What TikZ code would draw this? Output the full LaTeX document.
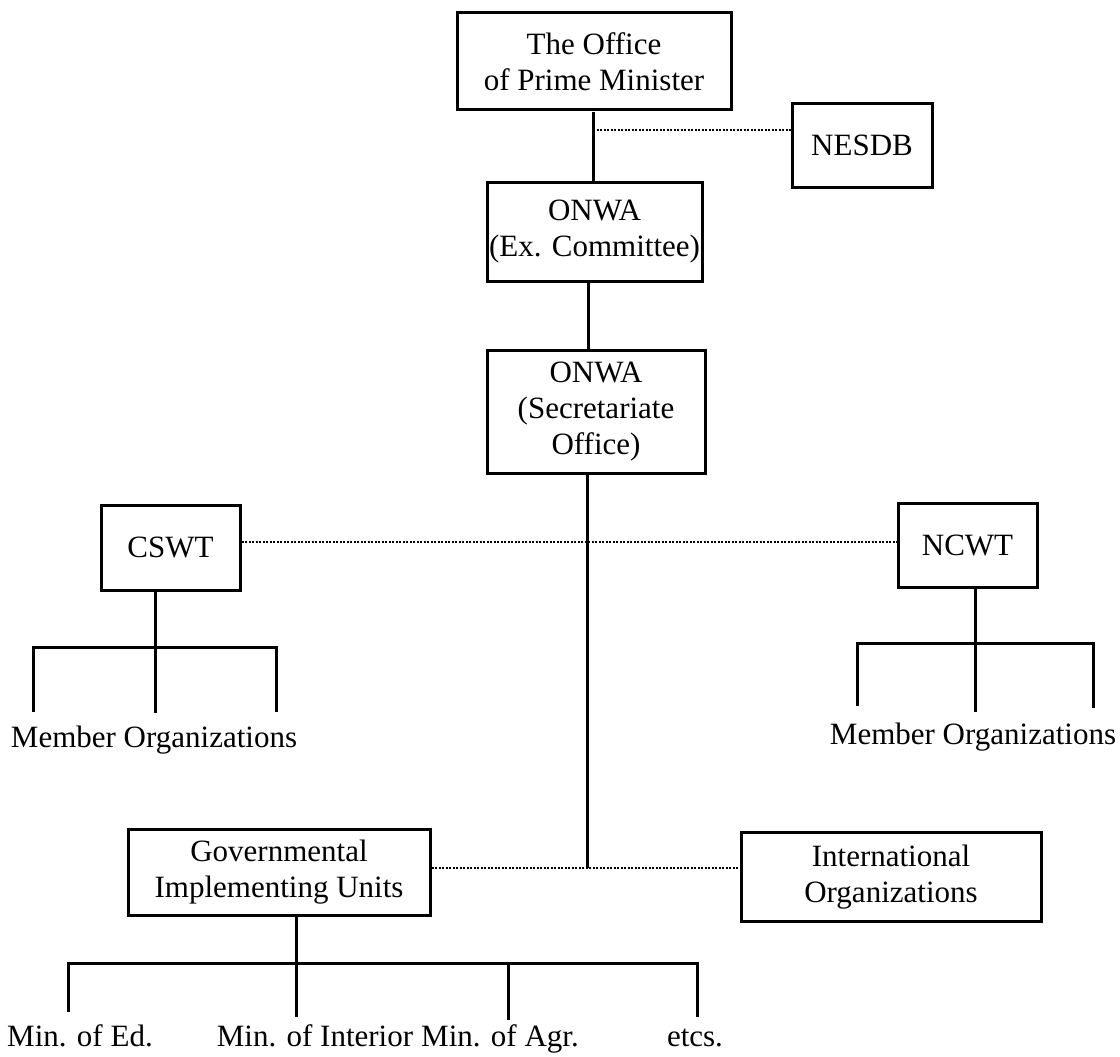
\documentclass[tikz,border=0pt]{standalone}
\usepackage{fontspec}
\setmainfont{Liberation Serif}
\begin{document}
\begin{tikzpicture}[x=1pt,y=-1pt,
  txt/.style={font=\fontsize{31}{36}\selectfont},
  orgbox/.style={draw, line width=3pt, rectangle, inner sep=0pt, align=center, txt},
  lbl/.style={inner sep=0pt, anchor=base, txt},
  link/.style={line width=3pt},
  dotline/.style={line width=2pt, dash pattern=on 2pt off 1.5pt}]
\useasboundingbox[fill=white] (0,0) rectangle (1120,1057);

% boxes
\node[orgbox, minimum width=274pt, minimum height=97pt] (pm) at (594,61.5) {The Office\\of Prime Minister};
\node[orgbox, minimum width=140pt, minimum height=83pt] (nesdb) at (862,145.5) {NESDB};
\node[orgbox, minimum width=215pt, minimum height=99pt] (ex) at (594.5,232) {ONWA\\(Ex. Committee)};
\node[orgbox, minimum width=218pt, minimum height=123pt] (sec) at (596,412) {ONWA\\(Secretariate\\Office)};
\node[orgbox, minimum width=139pt, minimum height=85pt] (cswt) at (170.5,547.5) {CSWT};
\node[orgbox, minimum width=139pt, minimum height=84pt] (ncwt) at (967.5,545) {NCWT};
\node[orgbox, minimum width=302pt, minimum height=86pt] (gov) at (279,872) {Governmental\\Implementing Units};
\node[orgbox, minimum width=300pt, minimum height=89pt] (intl) at (891,877) {International\\Organizations};

% labels
\node[lbl] (memL) at (154,747) {Member Organizations};
\node[lbl] (memR) at (973,744) {Member Organizations};
\node[lbl] (ed) at (80,1046) {Min. of Ed.};
\node[lbl] (int) at (315,1046) {Min. of Interior};
\node[lbl] (agr) at (500,1046) {Min. of Agr.};
\node[lbl] (etc) at (695,1046) {etcs.};

% junction coordinates
\coordinate (pmj) at (593,130);
\coordinate (j1) at (587,542);
\coordinate (j2) at (587,868);

% top chain
\draw[link] ([xshift=-1pt]pm.south) -- ([xshift=-1pt]pm.south |- ex.north);
\draw[dotline] (pmj) -- (pmj -| nesdb.west);
\draw[link] ([xshift=-6pt]ex.south) -- ([xshift=-6pt]ex.south |- sec.north);
\draw[link] (sec.south -| j1) -- (j2);
\draw[dotline] (cswt.east |- j1) -- (ncwt.west |- j1);
\draw[dotline] (gov.east |- j2) -- (intl.west |- j2);

% CSWT tree
\coordinate (cb) at (155,647);
\coordinate (cbl) at (33,647);
\coordinate (cbr) at (276,647);
\coordinate (cl1) at (33,712);
\coordinate (cl2) at (155,713);
\coordinate (cl3) at (276,712);
\draw[link] (cswt.south -| cb) -- (cl2);
\draw[link] (cl1) -- (cbl) -- (cbr) -- (cl3);

% NCWT tree
\coordinate (nb) at (975,643);
\coordinate (nbl) at (857,643);
\coordinate (nbr) at (1093,643);
\coordinate (nl1) at (857,706);
\coordinate (nl2) at (975,712);
\coordinate (nl3) at (1093,708);
\draw[link] (ncwt.south -| nb) -- (nl2);
\draw[link] (nl1) -- (nbl) -- (nbr) -- (nl3);

% Governmental tree
\coordinate (gb) at (296,963);
\coordinate (gbl) at (68,963);
\coordinate (gbr) at (697,963);
\coordinate (gl1) at (68,1012);
\coordinate (gl2) at (296,1017);
\coordinate (gl3) at (508,1020);
\coordinate (gl4) at (697,1017);
\draw[link] (gov.south -| gb) -- (gl2);
\draw[link] (gl1) -- (gbl) -- (gbr) -- (gl4);
\draw[link] (gl3 |- gbl) -- (gl3);
\end{tikzpicture}
\end{document}
